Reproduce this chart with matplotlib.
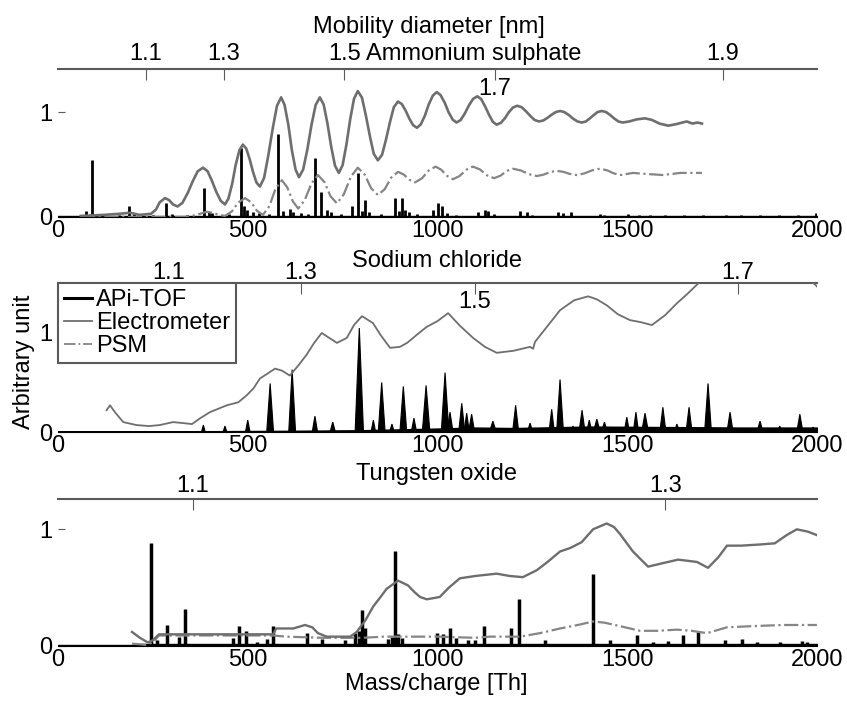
import matplotlib
matplotlib.use('Agg')
import matplotlib.pyplot as plt
from matplotlib.lines import Line2D

plt.rcParams['font.family'] = ['Liberation Sans', 'DejaVu Sans']
plt.rcParams['font.size'] = 17

ELEC = '#6e6e6e'
PSMC = '#858585'
AXC = '#5a5a5a'

# ---------------- Ammonium sulphate ----------------
as_elec_mz = [60, 120, 160, 190, 215, 245, 258, 268, 282, 293, 303, 315, 328, 342, 355, 368, 382,
              394, 405, 417, 429, 440, 449, 459, 468, 478, 487, 496, 505, 514, 523, 532, 543, 554,
              566, 577, 588, 597, 607, 616, 626, 635, 646, 657, 668, 679, 690, 700, 710, 720, 730,
              740, 750, 760, 770, 780, 790, 801, 811, 822, 832, 843, 854, 864, 875, 885, 896, 906,
              916, 926, 936, 946, 956, 967, 977, 988, 998, 1008, 1019, 1029, 1040, 1050, 1061, 1072,
              1083, 1094, 1105, 1115, 1125, 1136, 1146, 1156, 1167, 1178, 1188, 1199, 1210, 1222,
              1233, 1245, 1256, 1268, 1279, 1290, 1301, 1312, 1323, 1334, 1346, 1357, 1369, 1380,
              1391, 1401, 1412, 1422, 1433, 1444, 1455, 1466, 1477, 1488, 1505, 1525, 1547, 1565,
              1585, 1608, 1630, 1645, 1657, 1672, 1685, 1697]
as_elec_v = [0.01, 0.02, 0.03, 0.04, 0.02, 0.03, 0.07, 0.14, 0.18, 0.16, 0.12, 0.10, 0.135, 0.23,
             0.34, 0.435, 0.47, 0.437, 0.35, 0.24, 0.153, 0.12, 0.174, 0.317, 0.493, 0.636, 0.69,
             0.652, 0.552, 0.428, 0.328, 0.29, 0.371, 0.583, 0.847, 1.059, 1.14, 1.068, 0.878, 0.642,
             0.452, 0.38, 0.452, 0.642, 0.878, 1.068, 1.14, 1.072, 0.892, 0.668, 0.488, 0.42, 0.494,
             0.689, 0.931, 1.126, 1.20, 1.137, 0.972, 0.768, 0.603, 0.54, 0.593, 0.733, 0.907, 1.047,
             1.10, 1.076, 1.014, 0.936, 0.874, 0.85, 0.882, 0.967, 1.073, 1.158, 1.19, 1.162, 1.09,
             1.0, 0.928, 0.90, 0.924, 0.986, 1.064, 1.126, 1.15, 1.124, 1.057, 0.973, 0.906, 0.88,
             0.897, 0.942, 0.998, 1.043, 1.06, 1.046, 1.008, 0.962, 0.924, 0.91, 0.92, 0.945, 0.975,
             1.0, 1.01, 1.0, 0.972, 0.938, 0.91, 0.90, 0.91, 0.938, 0.972, 1.0, 1.01, 1.0, 0.972,
             0.938, 0.91, 0.90, 0.91, 0.93, 0.94, 0.925, 0.89, 0.87, 0.885, 0.90, 0.91, 0.89, 0.90,
             0.89]

as_psm_mz = [60, 340, 365, 392, 408, 424, 440, 458, 475, 493, 509, 524, 540, 557, 573, 590, 604,
             619, 633, 650, 668, 685, 702, 718, 735, 753, 772, 790, 808, 825, 843, 861, 878, 896,
             911, 926, 941, 959, 977, 995, 1010, 1026, 1041, 1058, 1076, 1093, 1112, 1130, 1149,
             1166, 1182, 1199, 1220, 1241, 1262, 1279, 1297, 1314, 1332, 1349, 1367, 1387, 1408,
             1428, 1447, 1465, 1484, 1515, 1550, 1594, 1640, 1697]
as_psm_v = [0.0, 0.0, 0.02, 0.05, 0.04, 0.02, 0.01, 0.053, 0.138, 0.18, 0.14, 0.06, 0.02, 0.103,
            0.268, 0.35, 0.283, 0.148, 0.08, 0.16, 0.32, 0.40, 0.333, 0.198, 0.13, 0.215, 0.385,
            0.47, 0.405, 0.275, 0.21, 0.265, 0.375, 0.43, 0.405, 0.355, 0.33, 0.368, 0.443, 0.48,
            0.45, 0.39, 0.36, 0.39, 0.45, 0.48, 0.453, 0.398, 0.37, 0.393, 0.438, 0.46, 0.443, 0.408,
            0.39, 0.403, 0.428, 0.44, 0.43, 0.41, 0.40, 0.415, 0.445, 0.46, 0.445, 0.415, 0.40,
            0.42, 0.41, 0.40, 0.42, 0.42]

as_tof_mz = [74, 90, 160, 188, 200, 250, 285, 300, 340, 385, 398, 405, 450, 482, 490, 498, 515, 530,
             555, 580, 592, 611, 620, 640, 660, 677, 693, 709, 720, 745, 775, 791, 800, 809, 820, 850,
             888, 898, 906, 915, 924, 945, 988, 1001, 1012, 1025, 1050, 1107, 1125, 1134, 1150, 1217,
             1235, 1250, 1318, 1330, 1353, 1428, 1440, 1502, 1530, 1560, 1600, 1650, 1700, 1760,
             1800, 1850, 1900, 1950, 1998]
as_tof_h = [0.06, 0.54, 0.02, 0.10, 0.03, 0.02, 0.13, 0.03, 0.02, 0.28, 0.05, 0.04, 0.03, 0.66, 0.10,
            0.07, 0.05, 0.04, 0.03, 0.79, 0.06, 0.08, 0.05, 0.04, 0.03, 0.56, 0.24, 0.07, 0.05, 0.03,
            0.10, 0.42, 0.06, 0.16, 0.05, 0.03, 0.18, 0.06, 0.18, 0.07, 0.05, 0.03, 0.07, 0.13, 0.10,
            0.04, 0.02, 0.05, 0.07, 0.06, 0.03, 0.06, 0.05, 0.02, 0.05, 0.04, 0.05, 0.03, 0.02, 0.03,
            0.02, 0.02, 0.02, 0.02, 0.02, 0.02, 0.02, 0.02, 0.02, 0.02, 0.04]
as_base_mz = [0, 2000]
as_base_v = [0.012, 0.012]

# ---------------- Sodium chloride ----------------
nc_elec_mz = [128, 137, 150, 172, 207, 240, 268, 303, 330, 353, 375, 400, 445, 475, 497, 515, 532,
              572, 590, 611, 635, 655, 675, 695, 715, 735, 761, 780, 801, 830, 850, 875, 901, 920,
              945, 971, 1000, 1028, 1060, 1094, 1125, 1156, 1200, 1244, 1252, 1257, 1290, 1323, 1360,
              1397, 1420, 1446, 1475, 1507, 1535, 1565, 1600, 1631, 1660, 1687, 1720, 1800, 1900,
              1975, 1995, 2000]
nc_elec_v = [0.22, 0.27, 0.20, 0.10, 0.07, 0.06, 0.07, 0.10, 0.09, 0.08, 0.14, 0.20, 0.27, 0.30,
             0.37, 0.44, 0.54, 0.64, 0.62, 0.57, 0.68, 0.78, 0.90, 1.00, 0.95, 0.90, 0.95, 1.08, 1.17,
             1.10, 0.98, 0.85, 0.86, 0.90, 0.98, 1.06, 1.12, 1.20, 1.07, 0.95, 0.86, 0.80, 0.82, 0.86,
             0.84, 0.91, 1.07, 1.23, 1.33, 1.37, 1.34, 1.28, 1.19, 1.13, 1.11, 1.08, 1.18, 1.30, 1.40,
             1.50, 1.60, 1.70, 1.65, 1.55, 1.49, 1.47]

nc_tof_mz = [383, 440, 500, 559, 617, 677, 724, 794, 831, 853, 880, 910, 938, 970, 1020, 1033, 1064,
             1077, 1090, 1146, 1206, 1244, 1301, 1323, 1357, 1381, 1400, 1420, 1440, 1499, 1523, 1547,
             1594, 1631, 1663, 1713, 1771, 1850, 1902, 1955, 1990]
nc_tof_h = [0.07, 0.06, 0.12, 0.49, 0.63, 0.16, 0.10, 1.05, 0.12, 0.50, 0.08, 0.46, 0.14, 0.47, 0.60,
            0.20, 0.29, 0.19, 0.18, 0.11, 0.27, 0.09, 0.23, 0.53, 0.06, 0.22, 0.12, 0.13, 0.10, 0.15,
            0.20, 0.19, 0.25, 0.08, 0.25, 0.49, 0.20, 0.11, 0.06, 0.18, 0.05]
nc_tof_w = [5, 5, 6, 9, 9, 7, 7, 11, 6, 9, 6, 9, 7, 10, 10, 8, 8, 7, 8, 9, 8, 7, 7, 9, 6, 8, 7, 9, 8,
            7, 7, 9, 8, 7, 8, 9, 8, 8, 7, 8, 5]
nc_base_mz = [0, 380, 600, 800, 1000, 1100, 1200, 1400, 1600, 1800, 2000]
nc_base_v = [0.008, 0.008, 0.012, 0.018, 0.035, 0.045, 0.04, 0.055, 0.05, 0.045, 0.045]

# ---------------- Tungsten oxide ----------------
wo_elec_mz = [195, 216, 237, 250, 266, 300, 567, 575, 620, 651, 670, 685, 708, 770, 787, 810, 831,
              850, 866, 896, 922, 940, 954, 972, 1006, 1030, 1059, 1100, 1156, 1190, 1225, 1262,
              1290, 1323, 1350, 1380, 1410, 1446, 1465, 1481, 1515, 1555, 1594, 1634, 1660, 1684,
              1713, 1740, 1763, 1800, 1850, 1889, 1920, 1947, 1976, 2000]
wo_elec_v = [0.12, 0.07, 0.03, 0.05, 0.10, 0.10, 0.10, 0.15, 0.15, 0.18, 0.16, 0.11, 0.08, 0.08,
             0.12, 0.22, 0.34, 0.42, 0.49, 0.56, 0.52, 0.46, 0.42, 0.40, 0.42, 0.50, 0.58, 0.60,
             0.62, 0.60, 0.59, 0.65, 0.72, 0.81, 0.84, 0.89, 1.00, 1.05, 1.02, 0.96, 0.81, 0.68,
             0.71, 0.74, 0.73, 0.72, 0.67, 0.76, 0.86, 0.86, 0.87, 0.88, 0.95, 1.00, 0.98, 0.95]

wo_psm_mz = [195, 230, 250, 266, 567, 600, 700, 800, 860, 900, 1000, 1100, 1138, 1217, 1270, 1323,
             1370, 1410, 1440, 1481, 1534, 1580, 1631, 1670, 1710, 1763, 1830, 1910, 2000]
wo_psm_v = [0.02, 0.01, 0.03, 0.09, 0.09, 0.08, 0.07, 0.07, 0.08, 0.08, 0.08, 0.07, 0.08, 0.08,
            0.11, 0.15, 0.18, 0.21, 0.20, 0.17, 0.13, 0.13, 0.14, 0.13, 0.11, 0.16, 0.17, 0.18, 0.18]

wo_tof_mz = [245, 261, 288, 319, 335, 462, 478, 496, 525, 551, 567, 656, 695, 756, 783, 792, 801,
             810, 870, 880, 888, 895, 906, 998, 1015, 1033, 1050, 1080, 1100, 1122, 1195, 1215, 1283,
             1410, 1454, 1525, 1568, 1608, 1647, 1687, 1758, 1802, 1842, 1902, 1960, 1975]
wo_tof_h = [0.88, 0.05, 0.18, 0.08, 0.32, 0.07, 0.17, 0.13, 0.03, 0.06, 0.17, 0.11, 0.06, 0.05,
            0.11, 0.13, 0.31, 0.15, 0.06, 0.08, 0.81, 0.10, 0.07, 0.11, 0.10, 0.15, 0.07, 0.05, 0.05,
            0.17, 0.15, 0.40, 0.05, 0.62, 0.05, 0.09, 0.03, 0.04, 0.09, 0.12, 0.05, 0.06, 0.03, 0.03,
            0.04, 0.03]
wo_base_mz = [0, 208, 208, 2000]
wo_base_v = [0.005, 0.005, 0.02, 0.02]

# top axis: mobility diameter ticks (placed on the mass/charge scale)
top1_pos = [232, 437, 754, 1151, 1752]
top1_lab = ['1.1', '1.3', '1.5', '', '1.9']
top2_pos = [292, 640, 1099, 1792]
top2_lab = ['1.1', '1.3', '', '1.7']
top3_pos = [355, 1600]
top3_lab = ['1.1', '1.3']


def style(ax, ytop, top_pos, top_lab, top_pad):
    ax.set_xlim(0, 2000)
    ax.set_ylim(0, ytop)
    ax.set_xticks([0, 500, 1000, 1500, 2000])
    ax.set_yticks([0, 1])
    ax.tick_params(axis='x', direction='in', length=0, pad=2, labelsize=17)
    ax.tick_params(axis='y', direction='in', length=5, color=AXC, pad=4, labelsize=17)
    for s in ['left', 'right', 'top']:
        ax.spines[s].set_visible(False)
    ax.spines['bottom'].set_color('k')
    sec = ax.secondary_xaxis('top')
    sec.set_xticks(top_pos, top_lab)
    sec.tick_params(direction='in', length=8, color=AXC, pad=top_pad, labelsize=17)
    sec.spines['top'].set_color(AXC)
    sec.spines['top'].set_linewidth(1.5)
    return sec


fig = plt.figure(figsize=(8.47, 7.02), dpi=100)
ax1 = fig.add_axes([0.0685, 0.6909, 0.896, 0.2108])
ax2 = fig.add_axes([0.0685, 0.3846, 0.896, 0.2123])
ax3 = fig.add_axes([0.0685, 0.0798, 0.896, 0.2094])

# panel 1
ax1.fill_between(as_base_mz, 0, as_base_v, color='k', lw=1)
ax1.vlines(as_tof_mz, 0, as_tof_h, colors='k', lw=2)
ax1.plot(as_psm_mz, as_psm_v, color=PSMC, lw=1.6, ls='-.')
ax1.plot(as_elec_mz, as_elec_v, color=ELEC, lw=1.9)
style(ax1, 1.41, top1_pos, top1_lab, 3)
ax1.text(1151, 0.824, '1.7', ha='center', va='baseline', fontsize=17,
         transform=ax1.get_xaxis_transform())
ax1.text(812, 1.061, 'Ammonium sulphate', ha='left', va='baseline', fontsize=17,
         transform=ax1.get_xaxis_transform())
ax1.text(978, 1.24, 'Mobility diameter [nm]', ha='center', va='baseline', fontsize=17,
         transform=ax1.get_xaxis_transform())

# panel 2
ax2.fill_between(nc_base_mz, 0, nc_base_v, color='k', lw=1)
for c, h, w in zip(nc_tof_mz, nc_tof_h, nc_tof_w):
    ax2.fill([c - w, c, c + w], [0, h, 0], color='k', lw=0.8)
ax2.plot(nc_elec_mz, nc_elec_v, color=ELEC, lw=1.3)
style(ax2, 1.505, top2_pos, top2_lab, -1)
ax2.text(1099, 0.832, '1.5', ha='center', va='baseline', fontsize=17,
         transform=ax2.get_xaxis_transform())
ax2.text(999, 1.107, 'Sodium chloride', ha='center', va='baseline', fontsize=17,
         transform=ax2.get_xaxis_transform())
handles = [Line2D([], [], color='k', lw=2.2),
           Line2D([], [], color=ELEC, lw=1.3),
           Line2D([], [], color=PSMC, lw=1.3, ls='-.')]
leg = ax2.legend(handles, ['APi-TOF', 'Electrometer', 'PSM'], loc='upper left',
                 bbox_to_anchor=(0, 1), borderaxespad=0, fancybox=False, fontsize=17,
                 handlelength=1.2, handletextpad=0.15, labelspacing=0.05, borderpad=0.25)
leg.get_frame().set_edgecolor(AXC)
leg.get_frame().set_linewidth(1.5)
leg.get_frame().set_alpha(1)

# panel 3
ax3.fill_between(wo_base_mz, 0, wo_base_v, color='k', lw=1)
ax3.vlines(wo_tof_mz, 0, wo_tof_h, colors='k', lw=2.5)
ax3.plot(wo_psm_mz, wo_psm_v, color=PSMC, lw=1.6, ls='-.')
ax3.plot(wo_elec_mz, wo_elec_v, color=ELEC, lw=1.7)
style(ax3, 1.26, top3_pos, top3_lab, 1.5)
ax3.text(998, 1.129, 'Tungsten oxide', ha='center', va='baseline', fontsize=17,
         transform=ax3.get_xaxis_transform())
ax3.text(998, -0.30, 'Mass/charge [Th]', ha='center', va='baseline', fontsize=17,
         transform=ax3.get_xaxis_transform())

fig.text(24 / 847, 1 - 362 / 702, 'Arbitrary unit', rotation=90, ha='center', va='center',
         fontsize=17)

fig.savefig('out.png', dpi=100)
